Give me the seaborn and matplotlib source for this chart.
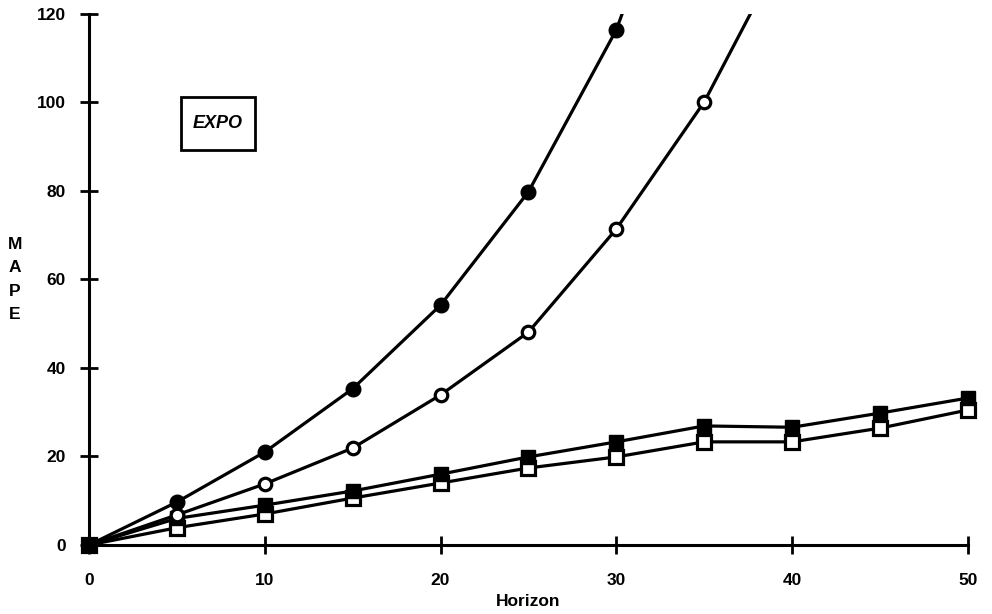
import matplotlib
matplotlib.use("Agg")
import matplotlib.pyplot as plt
from matplotlib.patches import Rectangle
import pandas as pd
import seaborn as sns

# Values
horizon = [0, 5, 10, 15, 20, 25, 30, 35, 40, 45, 50]
filled_circle = [0, 9.7, 21.0, 35.3, 54.2, 79.8, 116.4, 171.0, None, None, None]
open_circle = [0, 6.8, 13.8, 21.9, 33.9, 48.1, 71.4, 100.1, 138.0, None, None]
filled_square = [0, 6.0, 9.0, 12.2, 16.0, 19.9, 23.3, 26.9, 26.6, 29.8, 33.2]
open_square = [0, 3.9, 7.0, 10.6, 14.0, 17.4, 19.9, 23.3, 23.3, 26.4, 30.5]

sns.set_style("white")
plt.rcParams['font.family'] = ['Liberation Sans', 'DejaVu Sans']
plt.rcParams['text.color'] = 'black'

fig = plt.figure(figsize=(9.92, 6.14), dpi=100)
ax = fig.add_axes([0.0897, 0.1124, 0.886, 0.865])

# Draw order: squares under, circles on top
styles = [
    (open_square, dict(marker="s", markersize=9.5, markerfacecolor="white", markeredgewidth=2.3)),
    (filled_square, dict(marker="s", markersize=9.5, markerfacecolor="black", markeredgewidth=1)),
    (open_circle, dict(marker="o", markersize=9, markerfacecolor="white", markeredgewidth=2.3)),
    (filled_circle, dict(marker="o", markersize=10.5, markerfacecolor="black", markeredgewidth=1)),
]

clip = Rectangle((-0.03, -0.04), 1.06, 1.04, transform=ax.transAxes)
for values, kw in styles:
    df = pd.DataFrame({"Horizon": horizon, "MAPE": values}).dropna()
    sns.lineplot(data=df, x="Horizon", y="MAPE", ax=ax, color="black",
                 linewidth=2.3, markeredgecolor="black", **kw)
for line in ax.lines:
    line.set_clip_path(clip)

ax.set_xlim(0, 50)
ax.set_ylim(0, 120)
ax.set_xticks([0, 10, 20, 30, 40, 50])
ax.set_yticks([0, 20, 40, 60, 80, 100, 120])

for s in ["top", "right"]:
    ax.spines[s].set_visible(False)
for s in ["left", "bottom"]:
    ax.spines[s].set_linewidth(2.2)
    ax.spines[s].set_color("black")

ax.tick_params(axis="both", bottom=True, left=True, direction="inout", length=13,
               width=2, color="black", labelcolor="black", labelsize=12.5)
for lab in ax.get_xticklabels() + ax.get_yticklabels():
    lab.set_fontweight("bold")
ax.tick_params(axis="x", pad=14)
ax.tick_params(axis="y", pad=10)

ax.set_xlabel("Horizon", fontsize=12.5, fontweight="bold", labelpad=4, color="black")
ax.set_ylabel("")
fig.text(0.015, 0.545, "M\nA\nP\nE", fontsize=12.5, fontweight="bold",
         ha="center", va="center", linespacing=1.7)

# Panel label box
ax.add_patch(Rectangle((5.25, 89.3), 4.2, 11.9, facecolor="white",
                       edgecolor="black", linewidth=2, zorder=5))
ax.text(7.35, 95.2, "EXPO", fontsize=13, fontweight="bold", fontstyle="italic",
        ha="center", va="center", zorder=6)

fig.savefig("out.png", dpi=100)
